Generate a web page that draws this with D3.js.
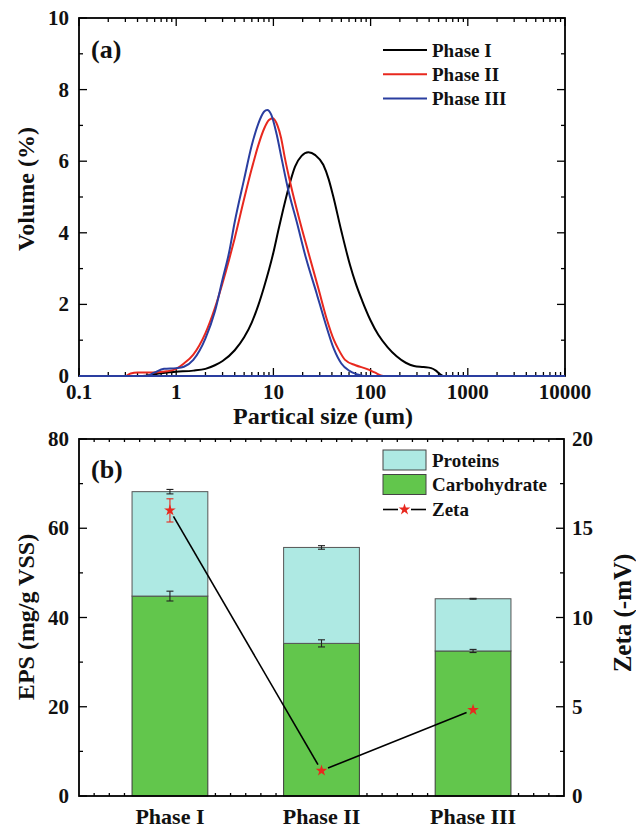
<!DOCTYPE html>
<html>
<head>
<meta charset="utf-8">
<script src="https://cdn.jsdelivr.net/npm/d3@7"></script>
<style>
  body { margin: 0; background: #fff; }
  svg text { font-family: "Liberation Serif", "Times New Roman", serif; font-weight: bold; fill: #111; }
</style>
</head>
<body>
<svg id="chart" width="636" height="830"></svg>
<script>
// ---- panel (a): particle size distribution ----
var phase1Size = [0.1, 0.45, 0.6, 0.8, 1.0, 1.5, 2.0, 2.5, 3.0, 4.0, 5.0, 6.0, 7.0, 8.0, 10, 11.2, 12.6, 14.8, 16.7, 19.5, 22.9, 27, 32.6, 37, 41, 50, 61.4, 70, 82, 100, 120, 150, 185, 230, 280, 350, 420, 470, 520, 560, 10000];
var phase1Vol  = [0, 0, 0.05, 0.1, 0.12, 0.15, 0.2, 0.3, 0.42, 0.72, 1.08, 1.5, 1.98, 2.48, 3.45, 4.05, 4.65, 5.4, 5.85, 6.15, 6.25, 6.17, 5.9, 5.5, 5.05, 4.05, 3.1, 2.6, 2.1, 1.55, 1.15, 0.8, 0.55, 0.37, 0.28, 0.25, 0.22, 0.15, 0.05, 0, 0];

var phase2Size = [0.1, 0.3, 0.34, 0.4, 0.6, 0.8, 1.0, 1.2, 1.5, 2.0, 2.5, 3.0, 3.5, 4.0, 5.0, 6.0, 7.0, 8.0, 9.0, 9.85, 11, 12, 13.1, 15.2, 18, 22.9, 29, 35.3, 42, 46.6, 54.6, 70, 91, 110, 135, 10000];
var phase2Vol  = [0, 0, 0.07, 0.1, 0.1, 0.13, 0.2, 0.35, 0.6, 1.2, 1.9, 2.6, 3.25, 3.85, 4.95, 5.8, 6.45, 6.9, 7.15, 7.2, 7.0, 6.65, 6.1, 5.3, 4.5, 3.45, 2.45, 1.6, 1.0, 0.75, 0.45, 0.3, 0.2, 0.1, 0, 0];

var phase3Size = [0.1, 0.5, 0.6, 0.75, 1.0, 1.2, 1.5, 2.0, 2.5, 3.0, 3.5, 4.0, 5.0, 6.0, 7.0, 8.0, 8.65, 9.5, 10.8, 12.2, 14.2, 17.4, 21.6, 27.9, 33.2, 42, 50, 60, 72, 85, 10000];
var phase3Vol  = [0, 0, 0.1, 0.2, 0.22, 0.26, 0.45, 1.05, 1.8, 2.7, 3.45, 4.3, 5.5, 6.45, 7.05, 7.38, 7.43, 7.3, 6.75, 6.05, 5.2, 4.3, 3.3, 2.3, 1.6, 0.75, 0.35, 0.15, 0.05, 0, 0];

var phaseNames = ["Phase I", "Phase II", "Phase III"];
var phaseColors = ["#000000", "#e8281e", "#2a3ea0"];
var sizeTicks = [0.1, 1, 10, 100, 1000, 10000];
var sizeTickLabels = ["0.1", "1", "10", "100", "1000", "10000"];
var volTicks = [0, 2, 4, 6, 8, 10];

// ---- panel (b): EPS and zeta ----
var carbohydrate = [44.8, 34.2, 32.5];
var proteins = [23.4, 21.5, 11.7];
var totalErr = [0.5, 0.4, 0.1];
var carbErr = [1.1, 0.8, 0.35];
var zeta = [16.0, 1.42, 4.82];
var zetaErr = [0.65, 0, 0];
var epsTicks = [0, 20, 40, 60, 80];
var zetaTicks = [0, 5, 10, 15, 20];

var svg = d3.select("#chart");
var FRAME = 1.8;

// ===== panel (a) =====
var xA = d3.scaleLog().domain([0.1, 10000]).range([79, 565]);
var yA = d3.scaleLinear().domain([0, 10]).range([376, 18]);

var ga = svg.append("g");

// minor + major ticks, inward, bottom and top
var logMinor = [];
for (var dec = 0.1; dec < 10000; dec *= 10) {
  for (var k = 2; k <= 9; k++) logMinor.push(dec * k);
}
function tickLine(g, x1, y1, x2, y2) {
  g.append("line").attr("x1", x1).attr("y1", y1).attr("x2", x2).attr("y2", y2)
    .attr("stroke", "#000").attr("stroke-width", 1.3);
}
logMinor.forEach(function (v) {
  tickLine(ga, xA(v), yA(0), xA(v), yA(0) - 4);
  tickLine(ga, xA(v), yA(10), xA(v), yA(10) + 4);
});
sizeTicks.forEach(function (v) {
  tickLine(ga, xA(v), yA(0), xA(v), yA(0) - 8);
  tickLine(ga, xA(v), yA(10), xA(v), yA(10) + 8);
});
d3.range(0, 11, 1).forEach(function (v) {
  var len = v % 2 === 0 ? 8 : 4;
  tickLine(ga, xA.range()[0], yA(v), xA.range()[0] + len, yA(v));
  tickLine(ga, xA.range()[1], yA(v), xA.range()[1] - len, yA(v));
});

var line = d3.line().curve(d3.curveMonotoneX);
var series = [[phase1Size, phase1Vol], [phase2Size, phase2Vol], [phase3Size, phase3Vol]];
series.forEach(function (s, i) {
  var pts = s[0].map(function (d, j) { return [xA(d), yA(s[1][j])]; });
  ga.append("path").attr("d", line(pts)).attr("fill", "none")
    .attr("stroke", phaseColors[i]).attr("stroke-width", 2);
});

ga.append("rect").attr("x", 79).attr("y", 18).attr("width", 565 - 79).attr("height", 376 - 18)
  .attr("fill", "none").attr("stroke", "#000").attr("stroke-width", FRAME);
// bottom axis drawn in blue like the zero line of Phase III
ga.append("line").attr("x1", 79).attr("x2", 565).attr("y1", yA(0)).attr("y2", yA(0))
  .attr("stroke", "#2a3ea0").attr("stroke-width", 2);

sizeTicks.forEach(function (v, i) {
  ga.append("text").attr("x", xA(v)).attr("y", 399).attr("text-anchor", "middle")
    .attr("font-size", 21).text(sizeTickLabels[i]);
});
volTicks.forEach(function (v) {
  ga.append("text").attr("x", 69).attr("y", yA(v) + 7).attr("text-anchor", "end")
    .attr("font-size", 21).text(v);
});
ga.append("text").attr("x", 323).attr("y", 424).attr("text-anchor", "middle")
  .attr("font-size", 24).text("Partical size (um)");
ga.append("text").attr("transform", "translate(34,189) rotate(-90)").attr("text-anchor", "middle")
  .attr("font-size", 24).text("Volume (%)");
ga.append("text").attr("x", 91).attr("y", 58).attr("font-size", 26).text("(a)");

// legend (a)
phaseNames.forEach(function (n, i) {
  var ly = 50 + i * 24.3;
  ga.append("line").attr("x1", 383).attr("x2", 427).attr("y1", ly).attr("y2", ly)
    .attr("stroke", phaseColors[i]).attr("stroke-width", 2);
  ga.append("text").attr("x", 432).attr("y", ly + 6.5).attr("font-size", 19).text(n);
});

// ===== panel (b) =====
var xB = d3.scaleLinear().domain([0.4, 3.6]).range([79, 564]);
var yB = d3.scaleLinear().domain([0, 80]).range([796, 439]);
var yZ = d3.scaleLinear().domain([0, 20]).range([796, 439]);
var gb = svg.append("g");

d3.range(0.5, 3.6, 0.1).forEach(function (v) {
  tickLine(gb, xB(v), yB(0), xB(v), yB(0) - 3);
  tickLine(gb, xB(v), yB(80), xB(v), yB(80) + 3);
});
d3.range(0, 81, 10).forEach(function (v) {
  tickLine(gb, 79, yB(v), 79 + (v % 20 === 0 ? 8 : 4), yB(v));
});
d3.range(0, 20.1, 2.5).forEach(function (v) {
  tickLine(gb, 564, yZ(v), 564 - (v % 5 === 0 ? 8 : 4), yZ(v));
});

var barW = xB(0.5) - xB(0);
var cats = [1, 2, 3];
cats.forEach(function (c, i) {
  var x0 = xB(c) - barW / 2;
  gb.append("rect").attr("x", x0).attr("width", barW)
    .attr("y", yB(carbohydrate[i])).attr("height", yB(0) - yB(carbohydrate[i]))
    .attr("fill", "#62c64c").attr("stroke", "#3a3a3a").attr("stroke-width", 1);
  var top = carbohydrate[i] + proteins[i];
  gb.append("rect").attr("x", x0).attr("width", barW)
    .attr("y", yB(top)).attr("height", yB(carbohydrate[i]) - yB(top))
    .attr("fill", "#aee9e3").attr("stroke", "#555").attr("stroke-width", 1);
});

function errBar(g, x, yc, e, scale, color) {
  var y1 = scale(yc - e), y2 = scale(yc + e);
  g.append("line").attr("x1", x).attr("x2", x).attr("y1", y1).attr("y2", y2).attr("stroke", color).attr("stroke-width", 1.1);
  [y1, y2].forEach(function (yy) {
    g.append("line").attr("x1", x - 3.5).attr("x2", x + 3.5).attr("y1", yy).attr("y2", yy).attr("stroke", color).attr("stroke-width", 1.1);
  });
}
cats.forEach(function (c, i) {
  errBar(gb, xB(c), carbohydrate[i], carbErr[i], yB, "#222");
  errBar(gb, xB(c), carbohydrate[i] + proteins[i], totalErr[i], yB, "#222");
});

// zeta line with small gaps at the markers
var gap = 7;
for (var i = 0; i < zeta.length - 1; i++) {
  var ax = xB(cats[i]), ay = yZ(zeta[i]), bx = xB(cats[i + 1]), by = yZ(zeta[i + 1]);
  var dx = bx - ax, dy = by - ay, L = Math.sqrt(dx * dx + dy * dy);
  gb.append("line").attr("x1", ax + dx / L * gap).attr("y1", ay + dy / L * gap)
    .attr("x2", bx - dx / L * gap).attr("y2", by - dy / L * gap)
    .attr("stroke", "#000").attr("stroke-width", 1.6);
}
var star = d3.symbol().type(d3.symbolStar).size(42);
cats.forEach(function (c, i) {
  if (zetaErr[i] > 0) errBar(gb, xB(c), zeta[i], zetaErr[i], yZ, "#e8281e");
  gb.append("path").attr("d", star()).attr("transform", "translate(" + xB(c) + "," + yZ(zeta[i]) + ")")
    .attr("fill", "#e8281e");
});

gb.append("rect").attr("x", 79).attr("y", 439).attr("width", 564 - 79).attr("height", 796 - 439)
  .attr("fill", "none").attr("stroke", "#000").attr("stroke-width", FRAME);

epsTicks.forEach(function (v) {
  gb.append("text").attr("x", 69).attr("y", yB(v) + 7).attr("text-anchor", "end")
    .attr("font-size", 21).text(v);
});
zetaTicks.forEach(function (v) {
  gb.append("text").attr("x", 572).attr("y", yZ(v) + 7).attr("text-anchor", "start")
    .attr("font-size", 21).text(v);
});
cats.forEach(function (c, i) {
  gb.append("text").attr("x", xB(c)).attr("y", 824).attr("text-anchor", "middle")
    .attr("font-size", 22).text(phaseNames[i]);
});
gb.append("text").attr("transform", "translate(34,617) rotate(-90)").attr("text-anchor", "middle")
  .attr("font-size", 24).text("EPS (mg/g VSS)");
gb.append("text").attr("transform", "translate(631,613) rotate(-90)").attr("text-anchor", "middle")
  .attr("font-size", 25).text("Zeta (-mV)");
gb.append("text").attr("x", 91).attr("y", 478).attr("font-size", 26).text("(b)");

// legend (b)
gb.append("rect").attr("x", 383).attr("y", 450).attr("width", 43).attr("height", 20)
  .attr("fill", "#aee9e3").attr("stroke", "#444").attr("stroke-width", 1);
gb.append("rect").attr("x", 383).attr("y", 474.5).attr("width", 43).attr("height", 20)
  .attr("fill", "#62c64c").attr("stroke", "#444").attr("stroke-width", 1);
gb.append("line").attr("x1", 383).attr("x2", 398).attr("y1", 509.5).attr("y2", 509.5).attr("stroke", "#000").attr("stroke-width", 1.6);
gb.append("line").attr("x1", 411).attr("x2", 426).attr("y1", 509.5).attr("y2", 509.5).attr("stroke", "#000").attr("stroke-width", 1.6);
gb.append("path").attr("d", star()).attr("transform", "translate(404.5,509.5)").attr("fill", "#e8281e");
gb.append("text").attr("x", 432).attr("y", 466.5).attr("font-size", 19).text("Proteins");
gb.append("text").attr("x", 432).attr("y", 491).attr("font-size", 19).text("Carbohydrate");
gb.append("text").attr("x", 432).attr("y", 516).attr("font-size", 19).text("Zeta");
</script>
</body>
</html>
